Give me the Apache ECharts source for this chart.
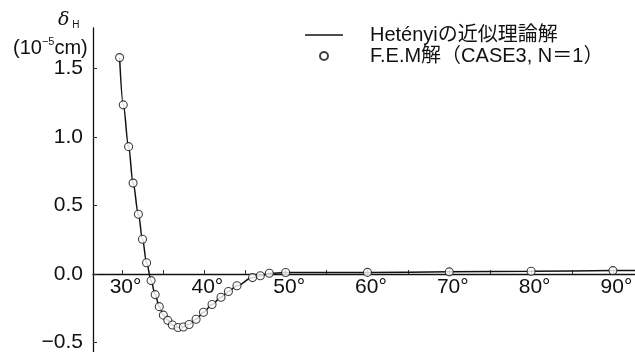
<!DOCTYPE html>
<html>
<head>
<meta charset="utf-8">
<script src="https://cdn.jsdelivr.net/npm/echarts@6/dist/echarts.min.js"></script>
<style>
  html, body { margin: 0; padding: 0; background: #fff; }
  #chart { width: 635px; height: 352px; }
</style>
</head>
<body>
<div id="chart"></div>
<script>
// angle (deg) and deflection (10^-5 cm)
const femDeg = [29.7, 30.15, 30.8, 31.35, 32.0, 32.5, 33.0, 33.55, 34.05, 34.55, 35.05, 35.6, 36.15, 36.85, 37.5, 38.2, 39.05, 39.95, 41.0, 42.1, 43.0, 44.05, 45.95, 46.9, 48.0, 50.0, 60, 70, 80, 90]
const femVal = [1.58, 1.235, 0.93, 0.664, 0.437, 0.254, 0.082, -0.048, -0.15, -0.238, -0.30, -0.338, -0.372, -0.39, -0.386, -0.368, -0.33, -0.279, -0.222, -0.169, -0.127, -0.085, -0.026, -0.012, 0.006, 0.011, 0.012, 0.016, 0.02, 0.025]

// Hetényi curve follows the same points, runs out to the right edge
const hetDeg = femDeg.concat([93])
const hetVal = femVal.concat([0.027])

const xTicks = [30, 35, 40, 45, 50, 55, 60, 65, 70, 75, 80, 85, 90]
const xLabels = [30, 40, 50, 60, 70, 80, 90]
const yLabels = [-0.5, 0, 0.5, 1.0, 1.5]

const numFont = '"Liberation Sans", sans-serif'
const jpFont = '"Liberation Sans", "Noto Sans CJK JP", sans-serif'

const chart = echarts.init(document.getElementById('chart'))
chart.setOption({
  animation: false,
  title: [
    {
      text: '{d|δ}{h| H}',
      left: 53,
      top: 6,
      textStyle: {
        rich: {
          d: { fontSize: 19, fontWeight: 'normal', fontFamily: 'DejaVu Serif', fontStyle: 'italic', color: '#111', verticalAlign: 'bottom' },
          h: { fontSize: 10, fontWeight: 'normal', fontFamily: numFont, color: '#111', verticalAlign: 'bottom' }
        }
      }
    },
    {
      text: '{p|(10}{s|−5}{p|cm)}',
      left: 8,
      top: 31,
      textStyle: {
        rich: {
          p: { fontSize: 20, fontWeight: 'normal', fontFamily: numFont, color: '#111', verticalAlign: 'bottom', lineHeight: 22 },
          s: { fontSize: 11, fontWeight: 'normal', fontFamily: numFont, color: '#111', verticalAlign: 'top', lineHeight: 22 }
        }
      }
    }
  ],
  legend: {
    orient: 'vertical',
    left: 300,
    top: 20,
    itemWidth: 38,
    itemHeight: 8,
    itemGap: 1,
    textStyle: {
      fontSize: 20,
      fontFamily: jpFont,
      color: '#111',
      lineHeight: 20,
      padding: [0, 0, 0, 22]
    },
    data: [
      { name: 'Hetényiの近似理論解', icon: 'path://M0,0H38V1.4H0Z', itemStyle: { color: '#111' } },
      { name: 'F.E.M解（CASE3, N＝1）' }
    ]
  },
  grid: {
    left: 93,
    right: 0,
    top: 28,
    bottom: 0,
    outerBoundsMode: 'none',
    containLabel: false
  },
  xAxis: {
    type: 'value',
    min: 26.45,
    max: 92.7,
    offset: -78,
    axisLine: { onZero: false, lineStyle: { color: '#111', width: 1.3 } },
    axisTick: {
      inside: true,
      length: 4,
      customValues: xTicks,
      lineStyle: { color: '#333', width: 1 }
    },
    axisLabel: {
      customValues: xLabels,
      formatter: v => v + '°',
      fontSize: 21,
      fontFamily: numFont,
      color: '#111',
      margin: 3,
      padding: [0, 0, 0, 7]
    },
    splitLine: { show: false }
  },
  yAxis: {
    type: 'value',
    min: -0.569,
    max: 1.796,
    axisLine: { show: true, lineStyle: { color: '#111', width: 1.3 } },
    axisTick: {
      show: true,
      inside: true,
      length: 4,
      customValues: yLabels,
      lineStyle: { color: '#333', width: 1 }
    },
    axisLabel: {
      customValues: yLabels,
      formatter: v => (v < 0 ? '−' : '') + Math.abs(v).toFixed(1),
      fontSize: 21,
      fontFamily: numFont,
      color: '#111',
      margin: 10
    },
    splitLine: { show: false }
  },
  series: [
    {
      name: 'Hetényiの近似理論解',
      type: 'line',
      symbol: 'none',
      smooth: 0.35,
      smoothMonotone: 'x',
      itemStyle: { color: '#111' },
      lineStyle: { color: '#111', width: 1.5 },
      z: 2,
      data: hetDeg.map((d, i) => [d, hetVal[i]])
    },
    {
      name: 'F.E.M解（CASE3, N＝1）',
      type: 'scatter',
      symbol: 'circle',
      symbolSize: 8,
      itemStyle: { color: '#fff', borderColor: '#111', borderWidth: 1.1 },
      z: 3,
      data: femDeg.map((d, i) => [d, femVal[i]])
    }
  ]
})
</script>
</body>
</html>
